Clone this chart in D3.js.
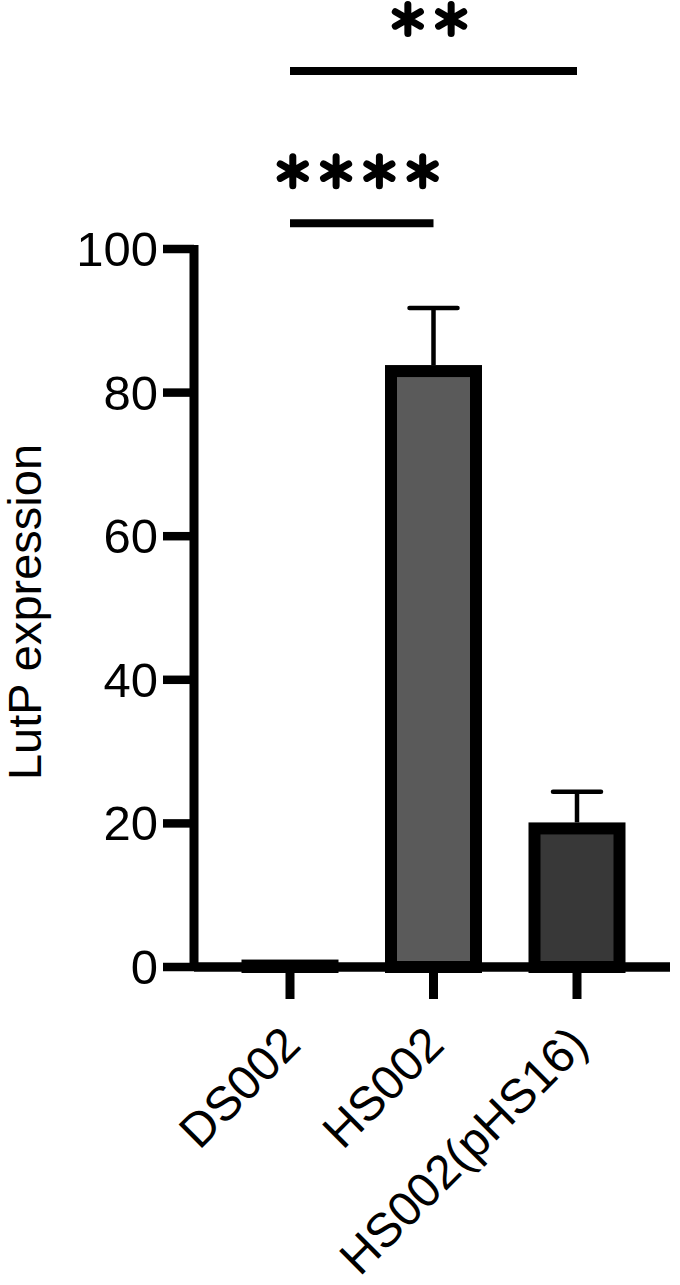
<!DOCTYPE html>
<html>
<head>
<meta charset="utf-8">
<script src="https://cdn.jsdelivr.net/npm/d3@7"></script>
<style>
  body { margin: 0; background: #fff; }
  text { font-family: "Liberation Sans", Arial, sans-serif; fill: #000; }
</style>
</head>
<body>
<div id="chart-area"></div>
<script>
let width = 680,
height = 1285;

// data
let categories = ['DS002', 'HS002', 'HS002(pHS16)']
let means = [0.2, 83.0, 19.3]
let errors = [0, 8.8, 5.1]
let fills = ['#ffffff', '#5a5a5a', '#383838']
let yTicks = [0, 20, 40, 60, 80, 100]
let comparisons = [
	{ from: 'DS002', to: 'HS002', label: '****', level: 103.6 },
	{ from: 'DS002', to: 'HS002(pHS16)', label: '**', level: 124.8 }
]

let svg = d3.select('#chart-area').append('svg')
	.attr('width', width)
	.attr('height', height)

let x = d3.scalePoint()
	.domain(categories)
	.range([290, 577])

let y = d3.scaleLinear()
	.domain([0, 100])
	.range([967, 249])

let axisX = 194
let barW = 85

// bars
svg.selectAll('.bar')
	.data(categories)
	.enter().append('rect')
	.attr('class', 'bar')
	.attr('x', d => x(d) - barW / 2)
	.attr('width', barW)
	.attr('y', (d, i) => y(means[i]))
	.attr('height', (d, i) => y(0) - y(means[i]))
	.attr('fill', (d, i) => fills[i])
	.attr('stroke', '#000')
	.attr('stroke-width', 12)

// error bars (upper half only)
let errData = categories.map((c, i) => ({ c: c, m: means[i], e: errors[i] })).filter(d => d.e > 0)
svg.selectAll('.err')
	.data(errData)
	.enter().append('line')
	.attr('x1', d => x(d.c)).attr('x2', d => x(d.c))
	.attr('y1', d => y(d.m) - 6)
	.attr('y2', d => y(d.m + d.e))
	.attr('stroke', '#000')
	.attr('stroke-width', 4.5)
svg.selectAll('.cap')
	.data(errData)
	.enter().append('line')
	.attr('x1', d => x(d.c) - 24).attr('x2', d => x(d.c) + 24)
	.attr('y1', d => y(d.m + d.e))
	.attr('y2', d => y(d.m + d.e))
	.attr('stroke', '#000')
	.attr('stroke-width', 4.5)
	.attr('stroke-linecap', 'round')

// y axis
svg.append('line')
	.attr('x1', axisX).attr('x2', axisX)
	.attr('y1', y(100) - 4).attr('y2', y(0))
	.attr('stroke', '#000')
	.attr('stroke-width', 9)

svg.selectAll('.ytick')
	.data(yTicks)
	.enter().append('line')
	.attr('x1', axisX - 31).attr('x2', axisX)
	.attr('y1', d => y(d)).attr('y2', d => y(d))
	.attr('stroke', '#000')
	.attr('stroke-width', 8.5)

svg.selectAll('.ylab')
	.data(yTicks)
	.enter().append('text')
	.attr('x', axisX - 36)
	.attr('y', d => y(d) + 17)
	.attr('text-anchor', 'end')
	.attr('font-size', 49)
	.text(d => d)

// x axis
svg.append('line')
	.attr('x1', axisX).attr('x2', 670)
	.attr('y1', y(0)).attr('y2', y(0))
	.attr('stroke', '#000')
	.attr('stroke-width', 9.5)

svg.selectAll('.xtick')
	.data(categories)
	.enter().append('line')
	.attr('x1', d => x(d)).attr('x2', d => x(d))
	.attr('y1', y(0)).attr('y2', y(0) + 32)
	.attr('stroke', '#000')
	.attr('stroke-width', 9)

svg.selectAll('.xlab')
	.data(categories)
	.enter().append('text')
	.attr('text-anchor', 'end')
	.attr('font-size', 48)
	.attr('transform', d => 'translate(' + (x(d) + 13) + ',' + 1047 + ') rotate(-45)')
	.text(d => d)

// y title
svg.append('text')
	.attr('transform', 'translate(41,612) rotate(-90)')
	.attr('text-anchor', 'middle')
	.attr('font-size', 47)
	.text('LutP expression')

// significance brackets
comparisons.forEach(c => {
	let ly = y(c.level)
	svg.append('line')
		.attr('x1', x(c.from)).attr('x2', x(c.to))
		.attr('y1', ly).attr('y2', ly)
		.attr('stroke', '#000')
		.attr('stroke-width', 8)
	let n = c.label.length
	let mid = (x(c.from) + x(c.to)) / 2 - 4
	let r = 14.5
	let star = d3.symbol().type(d3.symbolAsterisk).size((r / 0.59436) ** 2 - 0.75)
	for (let k = 0; k < n; k++) {
		svg.append('path')
			.attr('d', star)
			.attr('transform', 'translate(' + (mid + (k - (n - 1) / 2) * 43.3) + ',' + (ly - 52) + ')')
			.attr('fill', 'none')
			.attr('stroke', '#000')
			.attr('stroke-width', 7)
			.attr('stroke-linecap', 'round')
	}
})
</script>
</body>
</html>
